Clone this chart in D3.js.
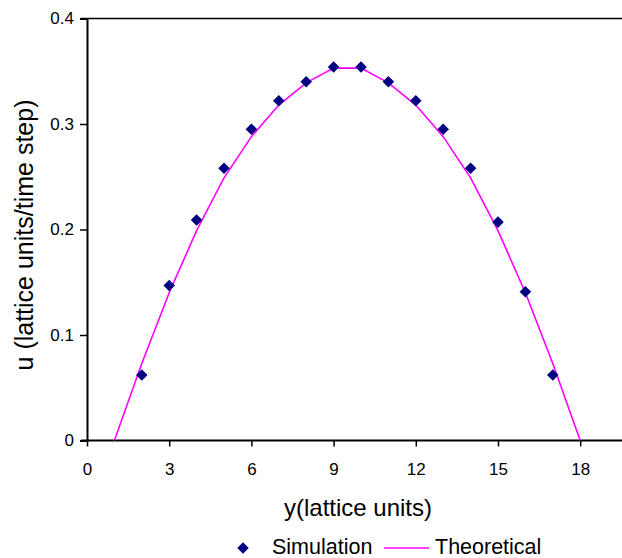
<!DOCTYPE html>
<html>
<head>
<meta charset="utf-8">
<script src="https://cdn.jsdelivr.net/npm/d3@7/dist/d3.min.js"></script>
<style>
  body { margin: 0; background: #fff; }
  svg { display: block; font-family: Arial, "Liberation Sans", sans-serif; }
</style>
</head>
<body>
<div id="chart"></div>
<script>
// simulated velocity profile (diamonds)
const simY = [2, 3, 4, 5, 6, 7, 8, 9, 10, 11, 12, 13, 14, 15, 16, 17];
const simU = [0.062, 0.147, 0.209, 0.258, 0.295, 0.322, 0.340, 0.354,
              0.354, 0.340, 0.322, 0.295, 0.258, 0.207, 0.141, 0.062];

// theoretical profile (line)
const theoY = [1, 2, 3, 4, 5, 6, 7, 8, 9, 10, 11, 12, 13, 14, 15, 16, 17, 18];
const theoU = [0, 0.073, 0.140, 0.199, 0.249, 0.288, 0.318, 0.339, 0.353,
               0.353, 0.339, 0.318, 0.288, 0.249, 0.199, 0.140, 0.073, 0];

const xTicks = [0, 3, 6, 9, 12, 15, 18];
const yTicks = [0, 0.1, 0.2, 0.3, 0.4];

const width = 622, height = 558;

const svg = d3.select('#chart').append('svg')
  .attr('width', width)
  .attr('height', height);

const x = d3.scaleLinear().domain([0, 20]).range([87, 635]);
const y = d3.scaleLinear().domain([0, 0.4]).range([440.5, 18.5]);

// top border at 0.4
svg.append('line')
  .attr('x1', x(0) - 6).attr('x2', width)
  .attr('y1', y(0.4)).attr('y2', y(0.4))
  .attr('stroke', '#000').attr('stroke-width', 1.5);

// axes
const xAxis = svg.append('g')
  .attr('transform', `translate(0,${y(0)})`)
  .call(d3.axisBottom(x).tickValues(xTicks).tickSize(6).tickPadding(16).tickFormat(d3.format('d')));

const yAxis = svg.append('g')
  .attr('transform', `translate(${x(0)},0)`)
  .call(d3.axisLeft(y).tickValues(yTicks).tickSize(7).tickPadding(6)
    .tickFormat((d) => (d === 0 ? '0' : d3.format('.1f')(d))));

[xAxis, yAxis].forEach((g) => {
  g.select('.domain').attr('stroke', '#000').attr('stroke-width', 2);
  g.selectAll('.tick line').attr('stroke', '#000').attr('stroke-width', 1.5);
  g.selectAll('.tick text')
    .attr('fill', '#000')
    .style('font-size', '17px')
    .style('font-family', 'Arial, "Liberation Sans", sans-serif');
});
xAxis.select('.domain').attr('d', `M${x(0) - 6},0H${width}`);

// theoretical line
const line = d3.line()
  .x((d, i) => x(theoY[i]))
  .y((d) => y(d));

svg.append('path')
  .datum(theoU)
  .attr('d', line)
  .attr('fill', 'none')
  .attr('stroke', '#ff00ff')
  .attr('stroke-width', 1.6);

// simulation diamonds
const diamond = d3.symbol().type(d3.symbolDiamond2).size(85);

svg.append('g')
  .selectAll('path')
  .data(simU)
  .enter()
  .append('path')
  .attr('d', diamond)
  .attr('transform', (d, i) => `translate(${x(simY[i])},${y(d)})`)
  .attr('fill', '#000080');

// axis titles
svg.append('text')
  .attr('x', 358)
  .attr('y', 516)
  .attr('text-anchor', 'middle')
  .style('font-size', '24px')
  .text('y(lattice units)');

svg.append('text')
  .attr('transform', 'translate(33,235) rotate(-90)')
  .attr('text-anchor', 'middle')
  .style('font-size', '25px')
  .text('u (lattice units/time step)');

// legend
const legend = svg.append('g');

legend.append('path')
  .attr('d', diamond)
  .attr('transform', 'translate(243,548)')
  .attr('fill', '#000080');

legend.append('text')
  .attr('x', 272)
  .attr('y', 554)
  .style('font-size', '21.5px')
  .text('Simulation');

legend.append('line')
  .attr('x1', 384).attr('x2', 429)
  .attr('y1', 548).attr('y2', 548)
  .attr('stroke', '#ff00ff')
  .attr('stroke-width', 1.6);

legend.append('text')
  .attr('x', 435)
  .attr('y', 554)
  .style('font-size', '21.5px')
  .text('Theoretical');
</script>
</body>
</html>
